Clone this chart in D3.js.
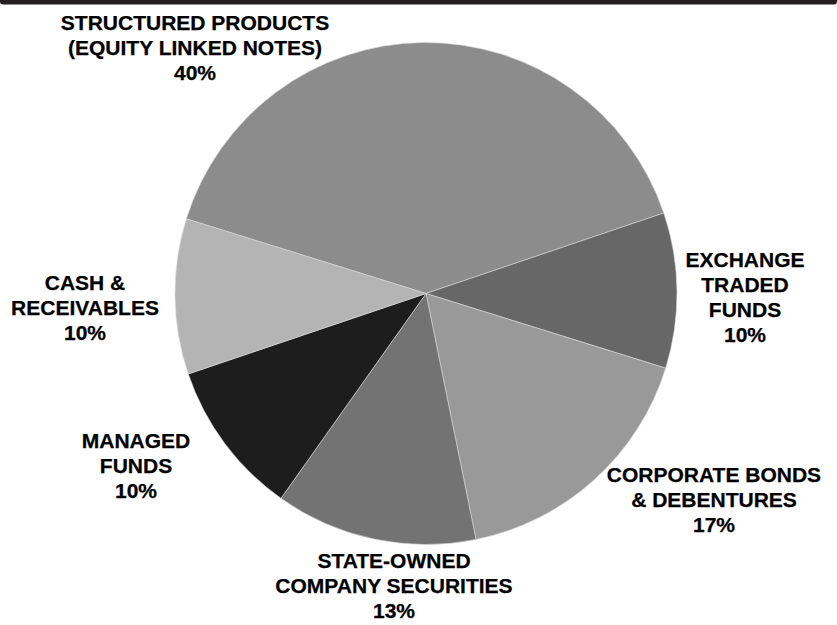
<!DOCTYPE html>
<html>
<head>
<meta charset="utf-8">
<script src="https://cdn.jsdelivr.net/npm/d3@7"></script>
<style>
  html, body { margin: 0; padding: 0; background: #ffffff; }
  svg { display: block; }
  text { font-family: "Liberation Sans", Arial, sans-serif; font-weight: bold; fill: #000; }
</style>
</head>
<body>
<svg id="chart" width="837" height="625"></svg>
<script>
// Portfolio allocation by asset class (percent of total)
const categories = [
  "STRUCTURED PRODUCTS (EQUITY LINKED NOTES)",
  "EXCHANGE TRADED FUNDS",
  "CORPORATE BONDS & DEBENTURES",
  "STATE-OWNED COMPANY SECURITIES",
  "MANAGED FUNDS",
  "CASH & RECEIVABLES"
];
const shares = [40, 10, 17, 13, 10, 10];
const labelLines = [
  ["STRUCTURED PRODUCTS", "(EQUITY LINKED NOTES)"],
  ["EXCHANGE", "TRADED", "FUNDS"],
  ["CORPORATE BONDS", "& DEBENTURES"],
  ["STATE-OWNED", "COMPANY SECURITIES"],
  ["MANAGED", "FUNDS"],
  ["CASH &", "RECEIVABLES"]
];
const sliceColors = ["#8c8c8c", "#676767", "#999999", "#737373", "#1d1d1d", "#b4b4b4"];

const W = 837, H = 625;
const cx = 426, cy = 293.5, R = 251;
const lineGap = 25;
// label anchor: centre x and first-line baseline
const labelAnchors = [
  [195, 30], [745, 267], [714, 482], [394, 568], [136, 448], [85, 290]
];

const svg = d3.select("#chart");

// header band
svg.append("rect")
  .attr("x", 0).attr("y", -4).attr("width", W).attr("height", 8.5)
  .attr("rx", 3).attr("fill", "#231f20");

const rows = categories.map((c, i) => ({ name: c, value: shares[i], i }));

const pie = d3.pie()
  .sort(null)
  .value(d => d.value)
  .startAngle(-72.7 * Math.PI / 180)
  .endAngle((360 - 72.7) * Math.PI / 180);

const arc = d3.arc().innerRadius(0).outerRadius(R);

const color = d3.scaleOrdinal().domain(categories).range(sliceColors);

const g = svg.append("g").attr("transform", `translate(${cx},${cy})`);
g.selectAll("path")
  .data(pie(rows))
  .join("path")
  .attr("d", arc)
  .attr("fill", d => color(d.data.name))
  .attr("stroke", "#d8d8d8")
  .attr("stroke-width", 0.6)
  .attr("stroke-linejoin", "round");

// category labels with percentages
const labels = svg.append("g");
rows.forEach((r, i) => {
  const [x, y] = labelAnchors[i];
  const lines = labelLines[i].concat([r.value + "%"]);
  const t = labels.append("text")
    .attr("text-anchor", "middle")
    .attr("font-size", 21)
    .attr("stroke", "#000")
    .attr("stroke-width", 0.25);
  lines.forEach((ln, k) => {
    t.append("tspan").attr("x", x).attr("y", y + k * lineGap).text(ln);
  });
});
</script>
</body>
</html>
